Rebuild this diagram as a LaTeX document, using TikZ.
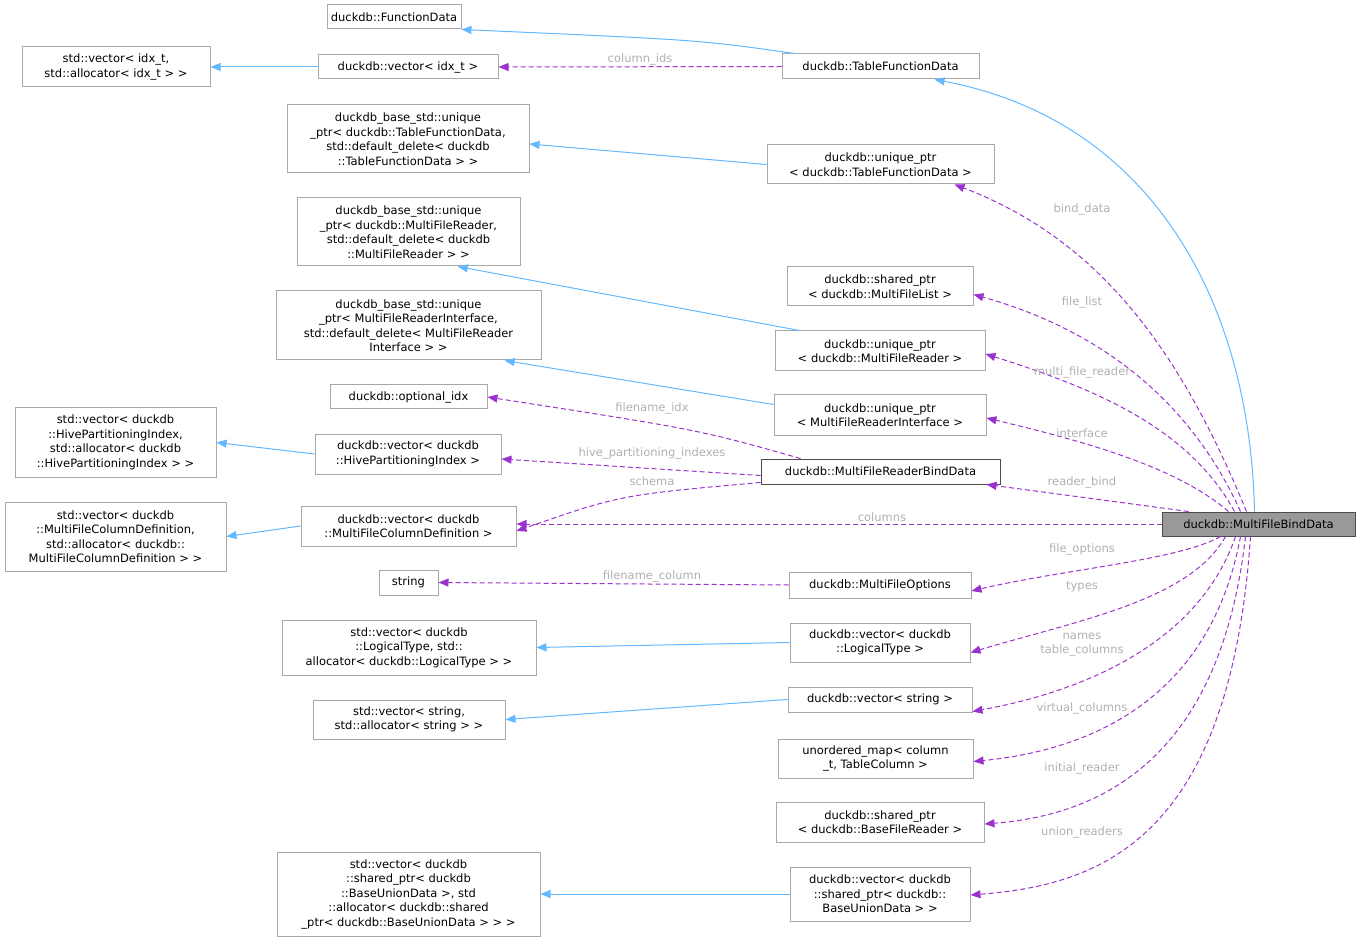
\documentclass[tikz,border=0pt]{standalone}
\usepackage{fontspec}
\setmainfont{DejaVu Sans}
\usetikzlibrary{arrows.meta}
\definecolor{bl}{HTML}{63B8FF}
\definecolor{pu}{HTML}{9A32CD}
\definecolor{bd}{HTML}{A8A8A8}
\definecolor{lb}{HTML}{B0B0B0}
\begin{document}
\begin{tikzpicture}[x=1pt,y=-1pt,line width=1pt,
  box/.style={draw=bd,fill=white,align=center,inner sep=0pt,font=\fontsize{11.5}{14.5}\selectfont},
  inh/.style={draw=bl,-{Triangle[length=10pt,width=8pt,fill=bl]}},
  mem/.style={draw=pu,dash pattern=on 5pt off 3pt,-{Triangle[length=10pt,width=8pt,fill=pu]}},
  lab/.style={text=lb,font=\fontsize{11.5}{12}\selectfont,inner sep=0pt,align=center}]
\useasboundingbox (0,0) rectangle (1361,941);
\newcommand\bx[6]{\node[box,minimum width=#4-#2,minimum height=#5-#3] (#1) at ({(#2+#4)/2},{(#3+#5)/2}) {#6};}
\bx{fd}{327}{5}{461}{29}{duckdb::FunctionData}
\bx{tfd}{782}{54}{979}{79}{duckdb::TableFunctionData}
\bx{vidx}{318}{55}{498}{79}{duckdb::vector< idx\_t >}
\bx{svidx}{22}{47}{210}{87}{std::vector< idx\_t,\\ std::allocator< idx\_t > >}
\bx{butfd}{287}{105}{529}{173}{duckdb\_base\_std::unique\\\_ptr< duckdb::TableFunctionData,\\ std::default\_delete< duckdb\\::TableFunctionData > >}
\bx{utfd}{767}{145}{994}{184}{duckdb::unique\_ptr\\< duckdb::TableFunctionData >}
\bx{bumfr}{297}{198}{520}{266}{duckdb\_base\_std::unique\\\_ptr< duckdb::MultiFileReader,\\ std::default\_delete< duckdb\\::MultiFileReader > >}
\bx{smfl}{787}{267}{973}{306}{duckdb::shared\_ptr\\< duckdb::MultiFileList >}
\bx{umfr}{775}{331}{985}{371}{duckdb::unique\_ptr\\< duckdb::MultiFileReader >}
\bx{bumfri}{276}{291}{541}{360}{duckdb\_base\_std::unique\\\_ptr< MultiFileReaderInterface,\\ std::default\_delete< MultiFileReader\\Interface > >}
\bx{oidx}{330}{385}{487}{409}{duckdb::optional\_idx}
\bx{umfri}{774}{395}{986}{435}{duckdb::unique\_ptr\\< MultiFileReaderInterface >}
\bx{svhpi}{15}{408}{216}{477}{std::vector< duckdb\\::HivePartitioningIndex,\\ std::allocator< duckdb\\::HivePartitioningIndex > >}
\bx{vhpi}{315}{434}{501}{474}{duckdb::vector< duckdb\\::HivePartitioningIndex >}
\node[box,draw=black!70,minimum width=239,minimum height=25] (mfrbd) at (880.5,471.5) {duckdb::MultiFileReaderBindData};
\bx{vcd}{301}{506}{516}{546}{duckdb::vector< duckdb\\::MultiFileColumnDefinition >}
\bx{svcd}{5}{502}{226}{571}{std::vector< duckdb\\::MultiFileColumnDefinition,\\ std::allocator< duckdb::\\MultiFileColumnDefinition > >}
\node[box,draw=black!70,fill=black!40,minimum width=193,minimum height=24] (mfbd) at (1258.5,524) {duckdb::MultiFileBindData};
\bx{str}{379}{570}{438}{595}{string}
\bx{mfo}{789}{572}{971}{598}{duckdb::MultiFileOptions}
\bx{svlt}{282}{620}{536}{675}{std::vector< duckdb\\::LogicalType, std::\\allocator< duckdb::LogicalType > >}
\bx{vlt}{790}{623}{970}{662}{duckdb::vector< duckdb\\::LogicalType >}
\bx{svs}{313}{700}{505}{739}{std::vector< string,\\ std::allocator< string > >}
\bx{vs}{788}{687}{972}{712}{duckdb::vector< string >}
\bx{um}{778}{739}{973}{778}{unordered\_map< column\\\_t, TableColumn >}
\bx{sbfr}{776}{802}{984}{842}{duckdb::shared\_ptr\\< duckdb::BaseFileReader >}
\bx{svbu}{277}{852}{540}{936}{std::vector< duckdb\\::shared\_ptr< duckdb\\::BaseUnionData >, std\\::allocator< duckdb::shared\\\_ptr< duckdb::BaseUnionData > > >}
\bx{vbu}{790}{867}{970}{921}{duckdb::vector< duckdb\\::shared\_ptr< duckdb::\\BaseUnionData > >}
% inheritance
\draw[inh] ([xshift=13]tfd.north west) .. controls (700,40) .. (fd.south east);
\draw[inh] ([xshift=-4]mfbd.north) .. controls (1250,300) and (1150,120) .. ([xshift=-45]tfd.south east);
\draw[inh] (vidx.west) -- (svidx.east |- vidx.west);
\draw[inh] (utfd.west) -- ([yshift=-5]butfd.east);
\draw[inh] ([xshift=25]umfr.north west) -- (bumfr.-35);
\draw[inh] ([yshift=-10]umfri.north west) -- (bumfri.-20);
\draw[inh] (vhpi.west) -- (svhpi.east);
\draw[inh] (vcd.west) -- (svcd.east);
\draw[inh] (vlt.west) -- (svlt.east);
\draw[inh] (vs.west) -- (svs.east);
\draw[inh] (vbu.west) -- (svbu.east);
% members
\draw[mem] (tfd.west) -- (vidx.east) node[lab,midway,above=1pt]{column\_ids};
\draw[mem] ([xshift=-12]mfbd.north) .. controls (1180,350) and (1100,240) .. ([xshift=-40]utfd.south east);
\draw[mem] ([xshift=-18]mfbd.north) .. controls (1190,400) and (1100,330) .. ([yshift=-8]smfl.east);
\draw[mem] ([xshift=-24]mfbd.north) .. controls (1190,430) and (1100,390) .. ([yshift=-3]umfr.east);
\draw[mem] ([xshift=-30]mfbd.north) .. controls (1180,470) and (1100,445) .. ([yshift=-3]umfri.east);
\draw[mem] ([xshift=-70]mfbd.north) -- ([xshift=-14]mfrbd.south east);
\draw[mem] (mfbd.west) -- (vcd.east |- mfbd.west);
\draw[mem] ([xshift=40]mfrbd.north west) .. controls (700,430) .. (oidx.east);
\draw[mem] ([yshift=-4]mfrbd.west) -- ([yshift=-5]vhpi.east);
\draw[mem] ([yshift=2]mfrbd.south west) .. controls (620,495) .. ([yshift=-5]vcd.east);
\draw[mem] (mfo.west) -- (str.east);
\draw[mem] ([xshift=-38]mfbd.south) .. controls (1180,560) and (1060,570) .. ([yshift=-6]mfo.east);
\draw[mem] ([xshift=-33]mfbd.south) .. controls (1190,600) and (1080,620) .. ([yshift=-10]vlt.east);
\draw[mem] ([xshift=-23]mfbd.south) .. controls (1200,640) and (1090,690) .. ([yshift=-12]vs.east);
\draw[mem] ([xshift=-18]mfbd.south) .. controls (1210,700) and (1090,750) .. ([yshift=-3]um.east);
\draw[mem] ([xshift=-13]mfbd.south) .. controls (1220,760) and (1100,815) .. ([yshift=-2]sbfr.east);
\draw[mem] ([xshift=-8]mfbd.south) .. controls (1230,840) and (1100,885) .. ([yshift=-1]vbu.east);
% labels
\node[lab] (l1) at (1082,209) {bind\_data};
\node[lab] (l2) at (1082,302) {file\_list};
\node[lab] (l3) at (1082,372) {multi\_file\_reader};
\node[lab] (l4) at (1082,433) {interface};
\node[lab] (l5) at (1082,482) {reader\_bind};
\node[lab] (l6) at (882,517) {columns};
\node[lab] (l7) at (652,408) {filename\_idx};
\node[lab] (l8) at (652,453) {hive\_partitioning\_indexes};
\node[lab] (l9) at (652,481) {schema};
\node[lab] (l10) at (652,576) {filename\_column};
\node[lab] (l11) at (1082,549) {file\_options};
\node[lab] (l12) at (1082,587) {types};
\node[lab,font=\fontsize{11.5}{14}\selectfont] (l13) at (1082,645) {names\\table\_columns};
\node[lab] (l14) at (1082,708) {virtual\_columns};
\node[lab] (l15) at (1082,768) {initial\_reader};
\node[lab] (l16) at (1082,832) {union\_readers};
\end{tikzpicture}
\end{document}
